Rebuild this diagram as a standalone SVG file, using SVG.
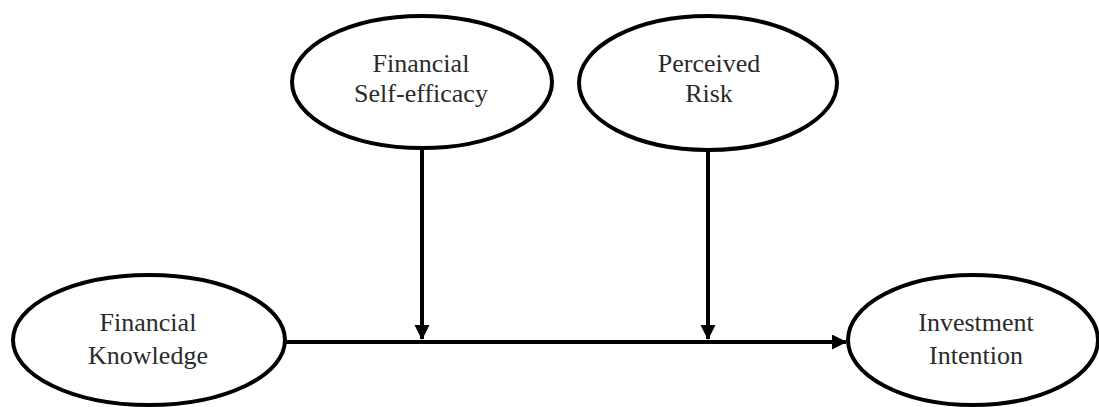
<svg xmlns="http://www.w3.org/2000/svg" width="1099" height="407" viewBox="0 0 1099 407">
  <style>
    .node { fill: #ffffff; stroke: #000000; stroke-width: 4; }
    .label { font-family: "Liberation Serif", "Times New Roman", serif; font-size: 26px; fill: #2a2a2a; text-anchor: middle; }
    .edge { stroke: #000000; stroke-width: 4; fill: none; }
  </style>
  <defs>
    <marker id="arrow" markerUnits="userSpaceOnUse" markerWidth="16" markerHeight="16" refX="14" refY="7.5" orient="auto">
      <path d="M0,0 L15,7.5 L0,15 Z" fill="#000000"/>
    </marker>
  </defs>
  <rect width="1099" height="407" fill="#ffffff"/>
  <g id="connectors">
    <line class="edge" x1="286" y1="342" x2="846" y2="342" marker-end="url(#arrow)"/>
    <line class="edge" x1="422" y1="148" x2="422" y2="339" marker-end="url(#arrow)"/>
    <line class="edge" x1="708" y1="150" x2="708" y2="339" marker-end="url(#arrow)"/>
  </g>
  <g id="financial-self-efficacy">
    <ellipse class="node" cx="422" cy="82" rx="130" ry="66"/>
    <text class="label" x="421" y="72">Financial</text>
    <text class="label" x="421" y="102">Self-efficacy</text>
  </g>
  <g id="perceived-risk">
    <ellipse class="node" cx="708" cy="83" rx="129" ry="67"/>
    <text class="label" x="709" y="72">Perceived</text>
    <text class="label" x="709" y="102">Risk</text>
  </g>
  <g id="financial-knowledge">
    <ellipse class="node" cx="149" cy="340" rx="136" ry="65"/>
    <text class="label" x="148" y="331">Financial</text>
    <text class="label" x="148" y="364">Knowledge</text>
  </g>
  <g id="investment-intention">
    <ellipse class="node" cx="973" cy="340" rx="125" ry="65"/>
    <text class="label" x="976" y="331">Investment</text>
    <text class="label" x="976" y="364">Intention</text>
  </g>
</svg>
